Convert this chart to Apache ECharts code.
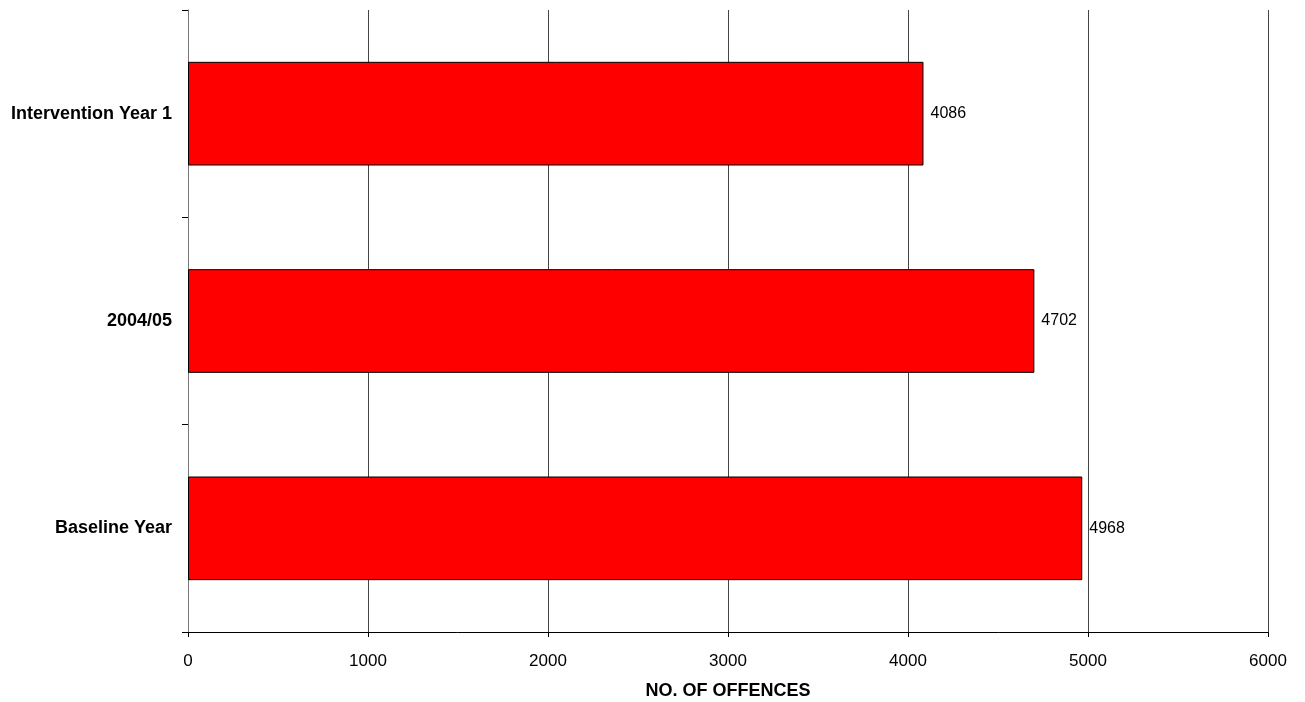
<!DOCTYPE html>
<html>
<head>
<meta charset="utf-8">
<script src="https://cdn.jsdelivr.net/npm/echarts@6/dist/echarts.min.js"></script>
<style>
html,body{margin:0;padding:0;background:#fff;}
#chart{width:1305px;height:702px;}
</style>
</head>
<body>
<div id="chart"></div>
<script>
// Offences per period (bottom to top on the category axis)
const categories = ['Baseline Year', '2004/05', 'Intervention Year 1'];
const offences = [4968, 4702, 4086];
const xTicks = [0, 1000, 2000, 3000, 4000, 5000, 6000];

const font = 'Liberation Sans, Arial, sans-serif';
const chart = echarts.init(document.getElementById('chart'));
chart.setOption({
  animation: false,
  grid: {
    left: 188, right: 37, top: 10, bottom: 70,
    containLabel: false,
    outerBoundsMode: 'none'
  },
  xAxis: {
    type: 'value',
    min: xTicks[0],
    max: xTicks[xTicks.length - 1],
    interval: 1000,
    name: 'NO. OF OFFENCES',
    nameLocation: 'middle',
    nameGap: 50,
    nameTextStyle: { fontFamily: font, fontSize: 18, fontWeight: 'bold', color: '#000' },
    axisLine: { show: true, lineStyle: { color: '#000', width: 1 } },
    axisTick: { show: true, length: 5, inside: false, lineStyle: { color: '#000' } },
    axisLabel: {
      fontFamily: font, fontSize: 17, color: '#000', margin: 21,
      formatter: v => String(v)
    },
    splitLine: { show: true, lineStyle: { color: '#444', width: 1 } }
  },
  yAxis: {
    type: 'category',
    data: categories,
    axisLine: { show: true, lineStyle: { color: '#777', width: 1 } },
    axisTick: { show: true, length: 6, lineStyle: { color: '#000' } },
    axisLabel: { fontFamily: font, fontSize: 18, fontWeight: 'bold', color: '#000', margin: 16 },
    splitLine: { show: false }
  },
  series: [{
    type: 'bar',
    data: offences,
    barWidth: '50%',
    itemStyle: { color: '#ff0000', borderColor: '#000', borderWidth: 1 },
    label: {
      show: true,
      position: 'right',
      distance: 7,
      fontFamily: font,
      fontSize: 16,
      color: '#000'
    }
  }]
});
</script>
</body>
</html>
